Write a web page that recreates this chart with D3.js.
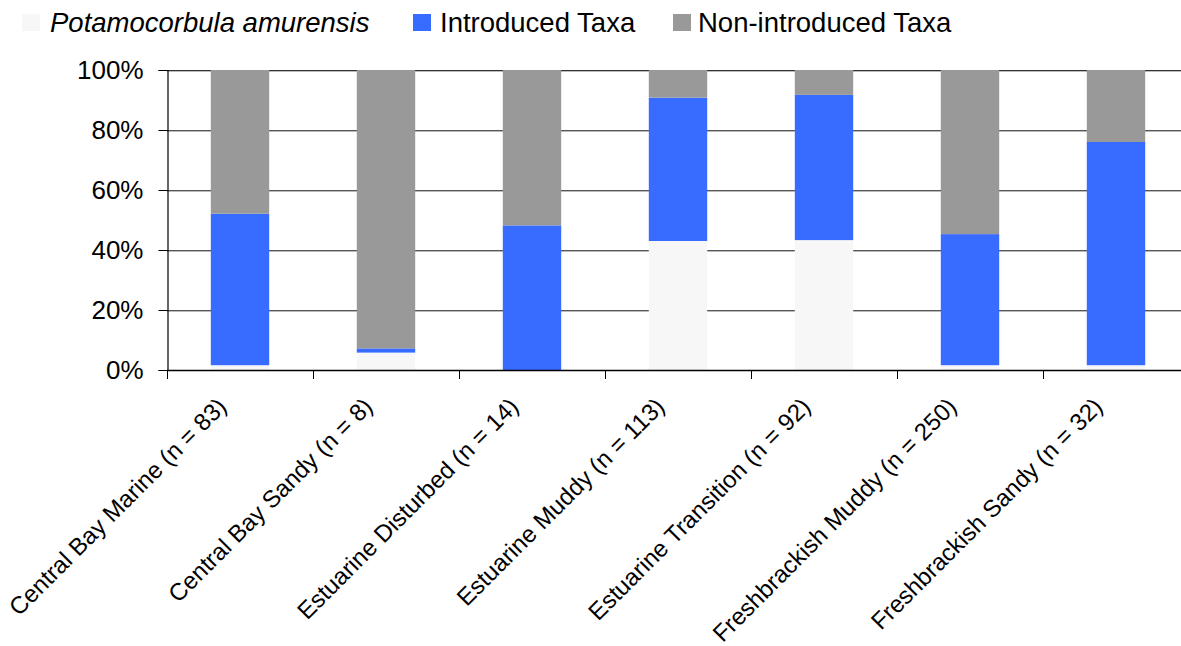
<!DOCTYPE html>
<html>
<head>
<meta charset="utf-8">
<script src="https://cdn.jsdelivr.net/npm/d3@7"></script>
<style>
  html, body { margin: 0; padding: 0; background: #fff; }
  svg { display: block; font-family: "Liberation Sans", Arial, sans-serif; }
</style>
</head>
<body>
<svg id="chart" width="1181" height="646"></svg>
<script>
// Habitat groups and the share of individuals in each taxon group (%)
const categories = [
  "Central Bay Marine (n = 83)",
  "Central Bay Sandy (n = 8)",
  "Estuarine Disturbed (n = 14)",
  "Estuarine Muddy (n = 113)",
  "Estuarine Transition (n = 92)",
  "Freshbrackish Muddy (n = 250)",
  "Freshbrackish Sandy (n = 32)"
];
const potamocorbula = [1.6, 5.8, 0.0, 43.0, 43.3, 1.6, 1.6];
const introduced    = [50.5, 1.4, 48.2, 47.8, 48.4, 43.7, 74.4];
const nonIntroduced = [47.9, 92.8, 51.8, 9.2, 8.3, 54.7, 24.0];

const seriesNames = ["Potamocorbula amurensis", "Introduced Taxa", "Non-introduced Taxa"];
const seriesColors = ["#f7f7f7", "#386bff", "#999999"];
const yTicks = [0, 20, 40, 60, 80, 100];

const rows = categories.map((c, i) => ({
  category: c,
  pot: potamocorbula[i],
  intro: introduced[i],
  non: nonIntroduced[i]
}));
const keys = ["pot", "intro", "non"];
const stacked = d3.stack().keys(keys)(rows);

const svg = d3.select("#chart");
const plotLeft = 167, plotRight = 1189, plotTop = 70, plotBottom = 370;

const x = d3.scaleBand().domain(categories).range([plotLeft, plotRight]).paddingInner(0.6).paddingOuter(0.3);
const y = d3.scaleLinear().domain([0, 100]).range([plotBottom, plotTop]);

// Gridlines (dark line with a soft light edge underneath)
const grid = svg.append("g");
yTicks.filter(t => t > 0).forEach(t => {
  const yy = Math.round(y(t));
  grid.append("line").attr("x1", plotLeft).attr("x2", plotRight).attr("y1", yy + 1.5).attr("y2", yy + 1.5)
    .attr("stroke", "#bbbbbb").attr("stroke-width", 1);
  grid.append("line").attr("x1", plotLeft).attr("x2", plotRight).attr("y1", yy + 0.5).attr("y2", yy + 0.5)
    .attr("stroke", t === 100 ? "#333333" : "#555555").attr("stroke-width", 1.2);
});

// Stacked bars
svg.append("g").selectAll("g").data(stacked).join("g")
  .attr("fill", (d, i) => seriesColors[i])
  .selectAll("rect").data(d => d).join("rect")
  .attr("x", d => x(d.data.category))
  .attr("width", x.bandwidth())
  .attr("y", d => y(d[1]))
  .attr("height", d => y(d[0]) - y(d[1]));

// Y axis
const yAxis = d3.axisLeft(y).tickValues(yTicks).tickFormat(d => d + "%").tickSize(9).tickPadding(15);
const gy = svg.append("g").attr("transform", `translate(${plotLeft + 0.5},0)`).call(yAxis);
gy.select(".domain").attr("stroke", "#000").attr("stroke-width", 1.2);
gy.selectAll(".tick line").attr("stroke", "#000");
gy.selectAll(".tick text").attr("font-size", 26).attr("fill", "#000")
  .attr("font-family", "'Liberation Sans', Arial, sans-serif");

// X axis: line and boundary ticks between categories
const boundaries = d3.range(categories.length + 1).map(i => plotLeft + i * x.step());
const gx = svg.append("g");
gx.append("line").attr("x1", plotLeft).attr("x2", plotRight).attr("y1", plotBottom + 0.5).attr("y2", plotBottom + 0.5)
  .attr("stroke", "#000").attr("stroke-width", 1.4);
gx.selectAll("line.tk").data(boundaries).join("line").attr("class", "tk")
  .attr("x1", d => Math.round(d) + 0.5).attr("x2", d => Math.round(d) + 0.5)
  .attr("y1", plotBottom).attr("y2", plotBottom + 9)
  .attr("stroke", "#000").attr("stroke-width", 1);

// Rotated category labels
gx.selectAll("text").data(categories).join("text")
  .attr("transform", d => `translate(${x(d) + x.bandwidth() / 2 - 12},${plotBottom + 38}) rotate(-45)`)
  .attr("text-anchor", "end")
  .attr("font-size", 24)
  .attr("fill", "#000")
  .text(d => d);

// Legend
const legendItems = [
  { name: seriesNames[0], color: seriesColors[0], mx: 22, tx: 50, italic: true },
  { name: seriesNames[1], color: seriesColors[1], mx: 413, tx: 440, italic: false },
  { name: seriesNames[2], color: seriesColors[2], mx: 673, tx: 698, italic: false }
];
const lg = svg.append("g");
legendItems.forEach(it => {
  lg.append("rect").attr("x", it.mx).attr("y", 14).attr("width", 18).attr("height", 17).attr("fill", it.color);
  lg.append("text").attr("x", it.tx).attr("y", 32)
    .attr("font-size", 27.5)
    .attr("font-style", it.italic ? "italic" : "normal")
    .attr("fill", "#000")
    .text(it.name);
});
</script>
</body>
</html>
